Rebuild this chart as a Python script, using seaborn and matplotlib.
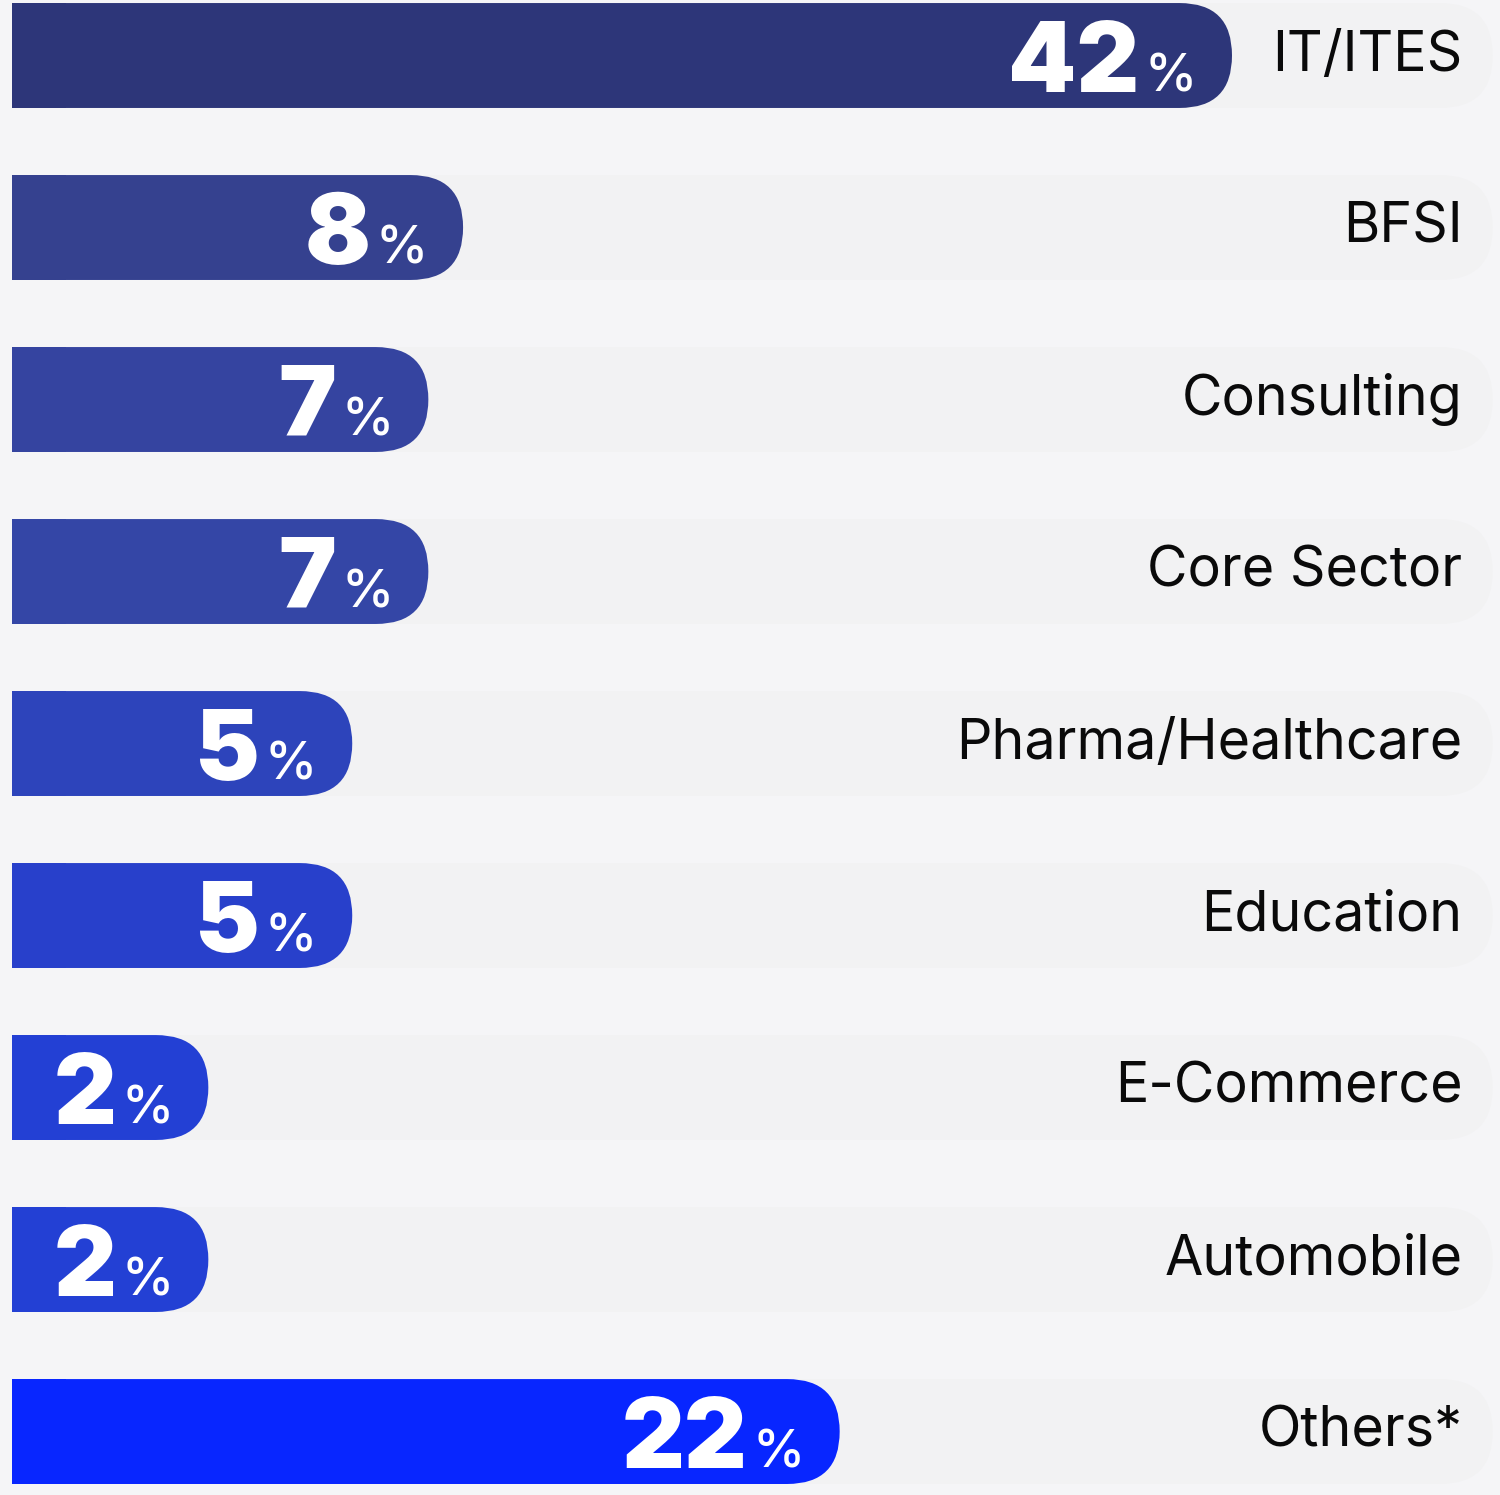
import matplotlib
matplotlib.use("Agg")
import matplotlib.pyplot as plt
import matplotlib.transforms as mtransforms
from matplotlib.patches import FancyBboxPatch, Rectangle
import numpy as np
import pandas as pd
import seaborn as sns

# -----------------------------
# Data
# -----------------------------

sectors = [
    "IT/ITES", "BFSI", "Consulting", "Core Sector", "Pharma/Healthcare",
    "Education", "E-Commerce", "Automobile", "Others*",
]
shares = [42, 8, 7, 7, 5, 5, 2, 2, 22]
bar_colors = [
    "#2d3679", "#35418f", "#3544a0", "#3446a6", "#2d44bb",
    "#2840cb", "#2340d4", "#2340d4", "#0826ff",
]

df = pd.DataFrame({"sector": sectors, "share": shares})
df["track"] = 58  # full-scale background track

BG = "#f5f5f7"
TRACK = "#f2f2f3"

# -----------------------------
# Figure
# -----------------------------

sns.set_theme(style="white")
plt.rcParams["font.family"] = ["Inter", "DejaVu Sans"]

fig = plt.figure(figsize=(15, 14.95), dpi=100)
fig.patch.set_facecolor(BG)
ax = fig.add_axes([0, 0, 1, 1])
ax.set_facecolor(BG)

# compressed length scale, as in the original design
P = 0.6
ax.set_xscale(
    "function",
    functions=(
        lambda v: np.sign(v) * np.abs(v) ** P,
        lambda t: np.sign(t) * np.abs(t) ** (1 / P),
    ),
)

sns.barplot(data=df, x="track", y="sector", orient="h", color=TRACK,
            saturation=1, width=0.61, ax=ax)
sns.barplot(data=df, x="share", y="sector", orient="h", hue="sector",
            palette=bar_colors, saturation=1, legend=False, width=0.61, ax=ax)

px_per_unit = 1220 / 42 ** P
left_t = -12 / px_per_unit
right_t = 1488 / px_per_unit
ax.set_xlim(-abs(left_t) ** (1 / P), right_t ** (1 / P))
ax.set_ylim(8.369, -0.3227)
ax.axis("off")

fig.canvas.draw()
renderer = fig.canvas.get_renderer()
ident = mtransforms.IdentityTransform()

# -----------------------------
# Rounded right ends
# -----------------------------

patches = list(ax.patches)
for p in patches:
    bb = p.get_window_extent(renderer)
    color = p.get_facecolor()
    z = p.get_zorder()
    p.remove()
    x0, x1, y0, y1 = bb.x0, bb.x1, bb.y0, bb.y1
    r = (y1 - y0) / 2
    ax.add_patch(FancyBboxPatch(
        (x0, y0), x1 - x0, y1 - y0,
        boxstyle=f"round,pad=0,rounding_size={r}",
        transform=ident, facecolor=color, edgecolor="none", zorder=z))
    ax.add_patch(Rectangle(
        (x0, y0), r + 2, y1 - y0,
        transform=ident, facecolor=color, edgecolor="none", zorder=z))

# -----------------------------
# Labels
# -----------------------------

for i, (name, val) in enumerate(zip(sectors, shares)):
    ax.text(0.975, i, name, transform=ax.get_yaxis_transform(),
            ha="right", va="center", fontsize=40, color="#0a0a0a", zorder=5)

    pct_tr = mtransforms.offset_copy(ax.transData, fig, x=-35, y=-36,
                                     units="dots")
    pct = ax.text(val, i, "%", transform=pct_tr, ha="right", va="baseline",
                  fontsize=38, fontweight="medium", color="white", zorder=6)
    w = pct.get_window_extent(renderer).width
    num_tr = mtransforms.offset_copy(ax.transData, fig, x=-35 - w - 5, y=-36,
                                     units="dots")
    ax.text(val, i, str(val), transform=num_tr, ha="right", va="baseline",
            fontsize=70, fontweight="black", color="white", zorder=6)

fig.savefig("out.png", dpi=100, facecolor=BG)
